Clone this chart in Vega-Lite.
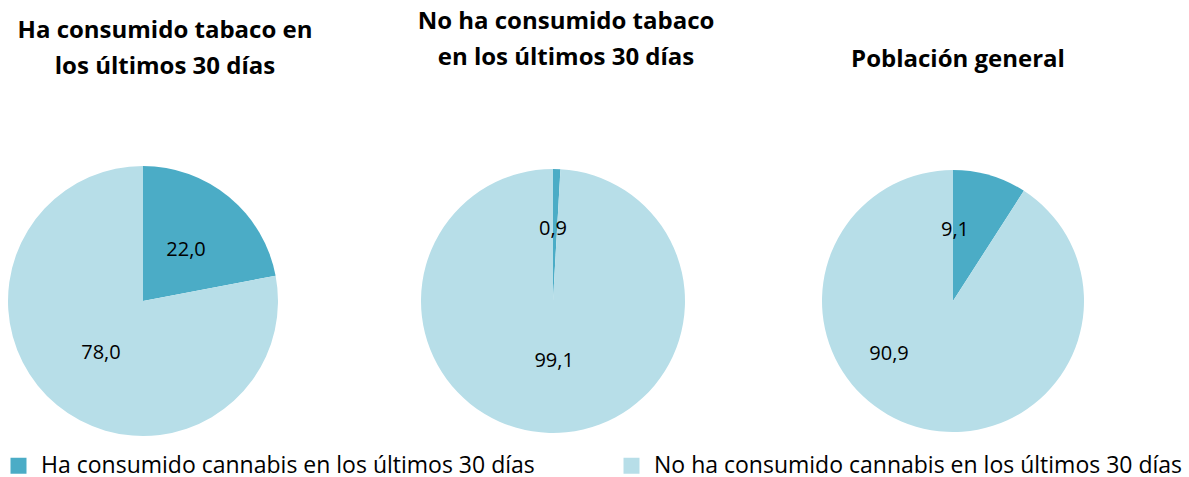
{
  "$schema": "https://vega.github.io/schema/vega-lite/v6.json",
  "padding": {"top": 10, "left": 0, "right": 0, "bottom": 0},
  "autosize": {"type": "pad"},
  "bounds": "flush",
  "spacing": 119,
  "config": {
    "view": {"stroke": null},
    "font": "Open Sans",
    "locale": {"number": {"decimal": ",", "thousands": ".", "grouping": [3], "currency": ["", " €"]}},
    "title": {"fontSize": 24, "fontWeight": "bold", "color": "#000000", "lineHeight": 36, "font": "Open Sans"},
    "text": {"font": "Open Sans"}
  },
  "datasets": {
    "d": [
      {"grupo": "Ha consumido tabaco", "cannabis": "Ha consumido cannabis en los últimos 30 días", "valor": 22.0, "orden": 1},
      {"grupo": "Ha consumido tabaco", "cannabis": "No ha consumido cannabis en los últimos 30 días", "valor": 78.0, "orden": 2},
      {"grupo": "No ha consumido tabaco", "cannabis": "Ha consumido cannabis en los últimos 30 días", "valor": 0.9, "orden": 1},
      {"grupo": "No ha consumido tabaco", "cannabis": "No ha consumido cannabis en los últimos 30 días", "valor": 99.1, "orden": 2},
      {"grupo": "Población general", "cannabis": "Ha consumido cannabis en los últimos 30 días", "valor": 9.1, "orden": 1},
      {"grupo": "Población general", "cannabis": "No ha consumido cannabis en los últimos 30 días", "valor": 90.9, "orden": 2}
    ]
  },
  "data": {"name": "d"},
  "hconcat": [
    {
      "width": 286, "height": 280,
      "title": {"text": ["Ha consumido tabaco en", "los últimos 30 días"], "dx": 22, "offset": 82},
      "transform": [{"filter": {"field": "grupo", "equal": "Ha consumido tabaco"}}],
      "layer": [
        {
          "mark": {"type": "arc", "outerRadius": 135},
          "encoding": {
            "theta": {"field": "valor", "type": "quantitative", "stack": true},
            "order": {"field": "orden", "type": "quantitative"},
            "color": {
              "field": "cannabis", "type": "nominal",
              "scale": {"domain": ["Ha consumido cannabis en los últimos 30 días", "No ha consumido cannabis en los últimos 30 días"], "range": ["#4BACC6", "#B7DEE8"]},
              "legend": {
                "orient": "none", "legendX": 7, "legendY": 293, "direction": "horizontal", "title": null,
                "symbolType": "square", "symbolSize": 256, "symbolStrokeWidth": 0, "labelFontSize": 23, "labelLimit": 0,
                "labelOffset": 11, "columnPadding": 85, "labelColor": "#000000", "labelFont": "Open Sans",
                "encode": {"symbols": {"update": {"fill": [{"test": "datum.label === 'Ha consumido cannabis en los últimos 30 días'", "value": "#31849B"}, {"value": "#B7DEE8"}], "opacity": {"value": 1}}}}
              }
            }
          }
        },
        {
          "transform": [{"filter": {"field": "orden", "equal": 1}}],
          "mark": {"type": "text", "radius": 67, "fontSize": 20, "color": "#000000"},
          "encoding": {"theta": {"datum": 11.1, "type": "quantitative"}, "text": {"field": "valor", "type": "quantitative", "format": ".1f"}}
        },
        {
          "transform": [{"filter": {"field": "orden", "equal": 2}}],
          "mark": {"type": "text", "radius": 67, "fontSize": 20, "color": "#000000"},
          "encoding": {"theta": {"datum": 60.8, "type": "quantitative"}, "text": {"field": "valor", "type": "quantitative", "format": ".1f"}}
        }
      ]
    },
    {
      "width": 296, "height": 280,
      "title": {"text": ["No ha consumido tabaco", "en los últimos 30 días"], "dx": 13, "offset": 91},
      "transform": [{"filter": {"field": "grupo", "equal": "No ha consumido tabaco"}}],
      "layer": [
        {
          "mark": {"type": "arc", "outerRadius": 132},
          "encoding": {
            "theta": {"field": "valor", "type": "quantitative", "stack": true},
            "order": {"field": "orden", "type": "quantitative"},
            "color": {"field": "cannabis", "type": "nominal"}
          }
        },
        {
          "transform": [{"filter": {"field": "orden", "equal": 1}}],
          "mark": {"type": "text", "radius": 72, "fontSize": 20, "color": "#000000"},
          "encoding": {"theta": {"datum": 0, "type": "quantitative"}, "text": {"field": "valor", "type": "quantitative", "format": ".1f"}}
        },
        {
          "transform": [{"filter": {"field": "orden", "equal": 2}}],
          "mark": {"type": "text", "radius": 60, "fontSize": 20, "color": "#000000"},
          "encoding": {"theta": {"datum": 49.7, "type": "quantitative"}, "text": {"field": "valor", "type": "quantitative", "format": ".1f"}}
        }
      ]
    },
    {
      "width": 266, "height": 280,
      "title": {"text": "Población general", "dx": 5, "offset": 89},
      "transform": [{"filter": {"field": "grupo", "equal": "Población general"}}],
      "layer": [
        {
          "mark": {"type": "arc", "outerRadius": 131},
          "encoding": {
            "theta": {"field": "valor", "type": "quantitative", "stack": true},
            "order": {"field": "orden", "type": "quantitative"},
            "color": {"field": "cannabis", "type": "nominal"}
          }
        },
        {
          "transform": [{"filter": {"field": "orden", "equal": 1}}],
          "mark": {"type": "text", "radius": 71, "fontSize": 20, "color": "#000000"},
          "encoding": {"theta": {"datum": 0.45, "type": "quantitative"}, "text": {"field": "valor", "type": "quantitative", "format": ".1f"}}
        },
        {
          "transform": [{"filter": {"field": "orden", "equal": 2}}],
          "mark": {"type": "text", "radius": 83, "fontSize": 20, "color": "#000000"},
          "encoding": {"theta": {"datum": 64, "type": "quantitative"}, "text": {"field": "valor", "type": "quantitative", "format": ".1f"}}
        }
      ]
    }
  ]
}
